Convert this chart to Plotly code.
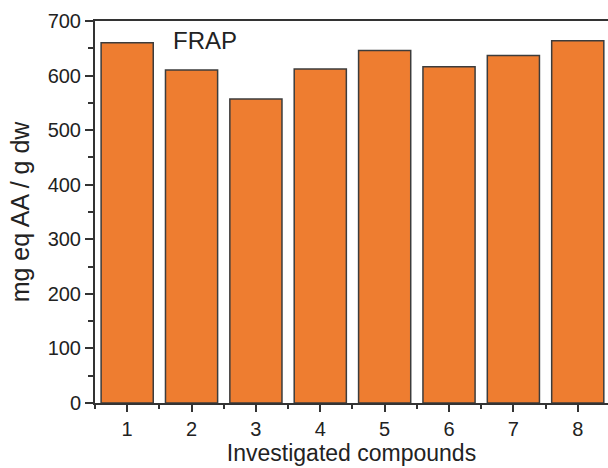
import plotly.graph_objects as go

compounds = [1, 2, 3, 4, 5, 6, 7, 8]
frap_values = [660, 610, 557, 612, 646, 616, 637, 664]
y_ticks = [0, 100, 200, 300, 400, 500, 600, 700]

fig = go.Figure()
fig.add_trace(go.Bar(
    x=compounds, y=frap_values, width=0.81,
    marker=dict(color="#EE7D30", line=dict(color="#3c3c3c", width=1.5)),
))

font = "Liberation Sans, Arial, sans-serif"
fig.update_layout(
    width=608, height=468,
    margin=dict(l=95, r=0, t=21, b=65),
    paper_bgcolor="white", plot_bgcolor="white",
    showlegend=False,
    font=dict(family=font, color="#222", size=20),
    xaxis=dict(
        range=[0.5, 8.47], tickmode="array", tickvals=compounds,
        ticktext=[str(c) for c in compounds],
        ticks="outside", ticklen=7, tickwidth=1.5, tickcolor="#333",
        showline=True, linecolor="#333", linewidth=2, mirror=True,
        showgrid=False, zeroline=False,
        tickfont=dict(size=20, family=font, color="#222"),
        minor=dict(tickmode="array", tickvals=[0.5, 1.5, 2.5, 3.5, 4.5, 5.5, 6.5, 7.5],
                   ticks="outside", ticklen=4, tickwidth=1.5, tickcolor="#333", showgrid=False),
        title=dict(text="Investigated compounds", standoff=5,
                   font=dict(size=23, family=font, color="#222")),
    ),
    yaxis=dict(
        range=[0, 700], tickmode="array", tickvals=y_ticks,
        ticks="outside", ticklen=8, tickwidth=1.5, tickcolor="#333",
        showline=True, linecolor="#333", linewidth=2,
        showgrid=False, zeroline=False,
        tickfont=dict(size=20, family=font, color="#222"),
        minor=dict(dtick=50, tick0=0, ticks="outside", ticklen=5, tickwidth=1.5,
                   tickcolor="#333", showgrid=False),
        title=dict(text="mg eq AA / g dw", standoff=11,
                   font=dict(size=25, family=font, color="#222")),
    ),
    annotations=[dict(
        text="FRAP", x=0.214, y=0.948, xref="paper", yref="paper",
        xanchor="center", yanchor="middle", showarrow=False,
        font=dict(size=24, family=font, color="#222"),
    )],
)

fig.write_html("out.html")
